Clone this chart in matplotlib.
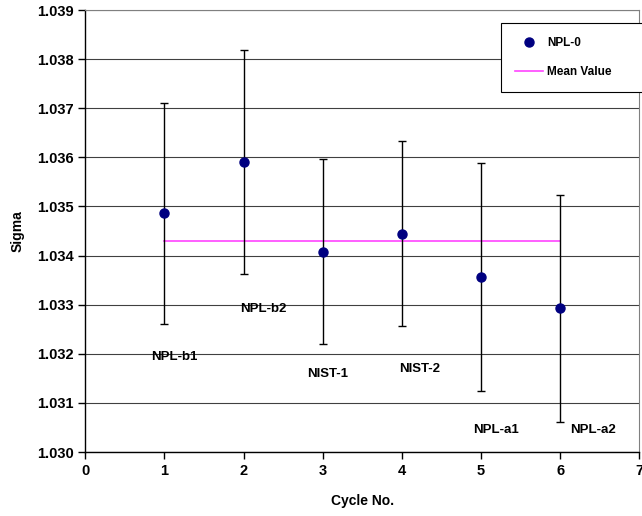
import matplotlib.pyplot as plt
import numpy as np

plt.rcParams.update({
    'font.family': ['Liberation Sans', 'DejaVu Sans'],
    'font.weight': 'bold',
    'font.size': 10,
})

# Data
cycles = [1, 2, 3, 4, 5, 6]
sigma = [1.03487, 1.03590, 1.03407, 1.03444, 1.03356, 1.03293]
err_upper = [1.03711, 1.03818, 1.03597, 1.03633, 1.03588, 1.03523]
err_lower = [1.03261, 1.03362, 1.03220, 1.03256, 1.03124, 1.03061]
mean_value = 1.03430
sample_names = ['NPL-b1', 'NPL-b2', 'NIST-1', 'NIST-2', 'NPL-a1', 'NPL-a2']
label_x = [1.12, 2.25, 3.06, 4.22, 5.19, 6.42]
label_y = [1.03193, 1.03291, 1.03159, 1.03169, 1.03045, 1.03045]

fig = plt.figure(figsize=(6.42, 5.16), dpi=100)
ax = fig.add_axes([0.1329, 0.124, 0.8629, 0.8566])

x = np.array(cycles)
y = np.array(sigma)
yerr = [y - np.array(err_lower), np.array(err_upper) - y]

ax.errorbar(x, y, yerr=yerr, fmt='none', ecolor='black', elinewidth=1.0,
            capsize=3, capthick=1.0, zorder=3)
ax.plot(x, y, 'o', color='#000080', markersize=6.5, label='NPL-0', zorder=4)
ax.plot([cycles[0], cycles[-1]], [mean_value, mean_value], color='#FF44FF',
        linewidth=1.2, label='Mean Value', zorder=2)

for name, lx, ly in zip(sample_names, label_x, label_y):
    ax.text(lx, ly, name, ha='center', va='center', fontsize=9.5, fontweight='bold')

ax.set_xlim(0, 7)
ax.set_ylim(1.030, 1.039)
ax.set_xticks(range(0, 8))
ax.set_yticks(np.arange(1.030, 1.0395, 0.001))
ax.set_yticklabels([f'{v:.3f}' for v in np.arange(1.030, 1.0395, 0.001)])
ax.yaxis.grid(True, color='black', linewidth=0.8, alpha=0.75)
ax.set_axisbelow(True)
ax.tick_params(direction='out', length=5, width=1, labelsize=10.5)

for side in ['top', 'right']:
    ax.spines[side].set_color('#808080')
for side in ['left', 'bottom']:
    ax.spines[side].set_color('black')
    ax.spines[side].set_linewidth(1.0)

ax.set_xlabel('Cycle No.', fontsize=10, fontweight='bold', labelpad=12)
ax.set_ylabel('Sigma', fontsize=10, fontweight='bold', labelpad=9)

leg = ax.legend(loc='upper left', bbox_to_anchor=(0.750, 0.8106, 0.31, 0.16),
                mode='expand', frameon=True,
                fancybox=False, edgecolor='black', fontsize=8.5,
                borderpad=1.2, labelspacing=1.4, handlelength=2.4,
                handletextpad=0.3, borderaxespad=0, framealpha=1)
leg.set_clip_on(False)
leg.get_frame().set_linewidth(0.8)
for t in leg.get_texts():
    t.set_fontweight('bold')

fig.savefig('out.png', dpi=100)
